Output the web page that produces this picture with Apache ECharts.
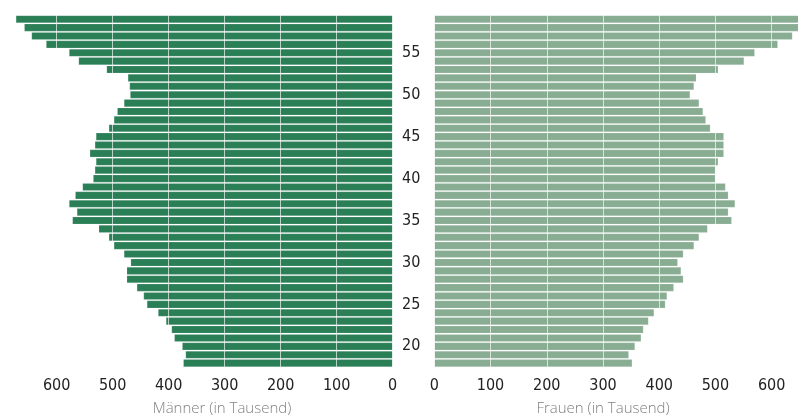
<!DOCTYPE html>
<html>
<head>
<meta charset="utf-8">
<script src="https://cdn.jsdelivr.net/npm/echarts@6/dist/echarts.min.js"></script>
<style>
html,body{margin:0;padding:0;background:#fff;}
#chart{width:798px;height:416px;}
</style>
</head>
<body>
<div id="chart"></div>
<script>
// Ages (bottom to top)
const ages = [18,19,20,21,22,23,24,25,26,27,28,29,30,31,32,33,34,35,36,37,38,39,40,41,42,43,44,45,46,47,48,49,50,51,52,53,54,55,56,57,58,59];
// Männer (in Tausend), ages 18..59
const maenner = [374,370,376,390,395,405,419,439,445,457,475,475,468,480,498,507,525,572,564,578,567,554,535,532,530,541,532,530,507,498,492,480,469,470,473,511,561,578,619,645,658,673];
// Frauen (in Tausend), ages 18..59
const frauen = [352,346,357,368,372,381,391,411,414,426,443,439,433,443,462,471,486,529,523,535,523,518,500,500,505,515,515,515,491,483,478,471,455,462,466,505,551,570,611,637,650,662];
// Value axis ticks
const valueTicks = [0,100,200,300,400,500,600];
const leftTitle = 'Männer (in Tausend)';
const rightTitle = 'Frauen (in Tausend)';

const chart = echarts.init(document.getElementById('chart'), null, {renderer:'canvas'});
const fontStack = "'Liberation Sans Narrow','Arial Narrow','DejaVu Sans Condensed','Liberation Sans',Arial,sans-serif";
const labelFont = {fontFamily:fontStack, fontSize:16, color:'#222'};
const gridLine = {show:true, lineStyle:{color:'rgba(255,255,255,0.65)', width:1}};
const tickMax = valueTicks[valueTicks.length-1];
const fmt = v => (v <= tickMax ? String(v) : '');

chart.setOption({
  animation:false,
  backgroundColor:'#fff',
  grid:[
    {left:0.7, width:392, top:15, bottom:48.7, containLabel:false, outerBoundsMode:'none'},
    {left:434.3, width:393.6, top:15, bottom:48.7, containLabel:false, outerBoundsMode:'none'}
  ],
  xAxis:[
    {gridIndex:0, type:'value', inverse:true, min:0, max:700, interval:100, z:5,
     axisLine:{show:false}, axisTick:{show:false}, splitLine:gridLine,
     axisLabel:Object.assign({margin:11, formatter:fmt}, labelFont)},
    {gridIndex:1, type:'value', min:0, max:700, interval:100, z:5,
     axisLine:{show:false}, axisTick:{show:false}, splitLine:gridLine,
     axisLabel:Object.assign({margin:11, formatter:fmt}, labelFont)}
  ],
  yAxis:[
    {gridIndex:0, type:'category', data:ages, position:'right',
     axisLine:{show:false}, axisTick:{show:false}, axisLabel:{show:false}, splitLine:{show:false}},
    {gridIndex:1, type:'category', data:ages, position:'left',
     axisLine:{show:false}, axisTick:{show:false}, splitLine:{show:false},
     axisLabel:Object.assign({margin:14, padding:[6,0,0,0], interval:(i,v)=> Number(v)%5===0}, labelFont)}
  ],
  series:[
    {name:'Männer', type:'bar', xAxisIndex:0, yAxisIndex:0, data:maenner,
     barCategoryGap:'8%', itemStyle:{color:'#2b7f57', borderColor:'rgba(255,255,255,0.25)', borderWidth:0.6}},
    {name:'Frauen', type:'bar', xAxisIndex:1, yAxisIndex:1, data:frauen,
     barCategoryGap:'8%', itemStyle:{color:'#88ad92', borderColor:'rgba(255,255,255,0.25)', borderWidth:0.6}}
  ],
  graphic:[
    {type:'text', x:222, y:409, style:{text:leftTitle, align:'center', verticalAlign:'middle', fontFamily:'Open Sans', fontWeight:300, fontSize:15, fill:'#808080'}},
    {type:'text', x:603, y:409, style:{text:rightTitle, align:'center', verticalAlign:'middle', fontFamily:'Open Sans', fontWeight:300, fontSize:15, fill:'#808080'}}
  ]
});
</script>
</body>
</html>
